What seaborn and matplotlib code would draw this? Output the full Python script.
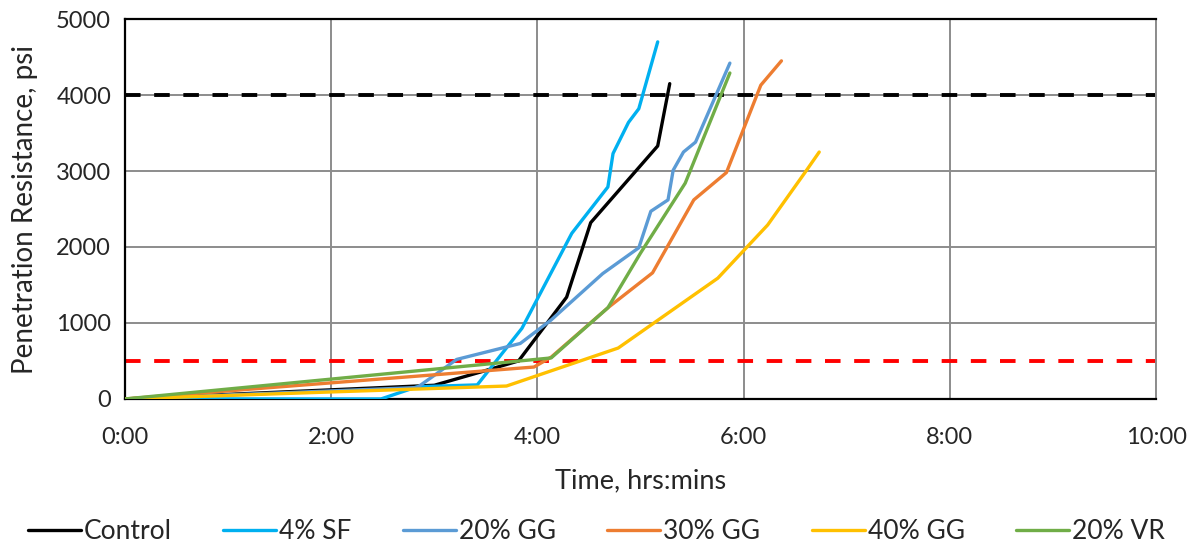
import numpy as np
import pandas as pd
import seaborn as sns
import matplotlib.pyplot as plt

# time in minutes, penetration resistance in psi
control_t = [0, 180, 207, 229, 257, 271, 310, 317]
control_p = [0, 180, 355, 500, 1340, 2320, 3330, 4150]

sf4_t = [0, 149, 170, 205, 231, 260, 281, 284, 293, 299, 310]
sf4_p = [0, 0, 160, 185, 930, 2180, 2790, 3230, 3640, 3820, 4700]

gg20_t = [0, 170, 193, 230, 248, 278, 299, 306, 316, 319, 325, 332, 352]
gg20_p = [0, 150, 520, 730, 1040, 1650, 1990, 2470, 2620, 3010, 3250, 3380, 4420]

gg30_t = [0, 238, 248, 281, 307, 331, 350, 370, 382]
gg30_p = [0, 420, 550, 1200, 1660, 2620, 2980, 4130, 4450]

gg40_t = [0, 222, 287, 345, 374, 396, 404]
gg40_p = [0, 170, 670, 1590, 2290, 2990, 3250]

vr20_t = [0, 248, 281, 300, 326, 352]
vr20_p = [0, 540, 1200, 1920, 2840, 4290]

mixes = ["Control", "4% SF", "20% GG", "30% GG", "40% GG", "20% VR"]
colors = ["#000000", "#00B0F0", "#5B9BD5", "#ED7D31", "#FFC000", "#70AD47"]

initial_set = 500
final_set = 4000

x_ticks = [0, 120, 240, 360, 480, 600]
y_ticks = [0, 1000, 2000, 3000, 4000, 5000]

series = [(control_t, control_p), (sf4_t, sf4_p), (gg20_t, gg20_p),
          (gg30_t, gg30_p), (gg40_t, gg40_p), (vr20_t, vr20_p)]
frames = []
for name, (t, p) in zip(mixes, series):
    frames.append(pd.DataFrame({"time": t, "psi": p, "mix": name}))
df = pd.concat(frames, ignore_index=True)

sns.set_style("white")
plt.rcParams["font.family"] = ["Lato", "DejaVu Sans"]

fig = plt.figure(figsize=(11.93, 5.45), dpi=100)
ax = fig.add_axes([0.1048, 0.268, 0.8642, 0.697])

ax.axhline(initial_set, color="#FF0000", lw=2.8, ls=(0, (4, 3.5)), zorder=1)
ax.axhline(final_set, color="#000000", lw=2.8, ls=(0, (4, 3.5)), zorder=1)

sns.lineplot(data=df, x="time", y="psi", hue="mix", hue_order=mixes,
             palette=colors, estimator=None, sort=False, lw=2.4, ax=ax,
             legend=True, zorder=3)

ax.set_xlim(0, 600)
ax.set_ylim(0, 5000)
ax.set_xticks(x_ticks)
ax.set_xticklabels([f"{m // 60}:{m % 60:02d}" for m in x_ticks])
ax.set_yticks(y_ticks)
ax.grid(True, color="#8C8C8C", lw=1.4)
ax.set_axisbelow(True)
ax.tick_params(length=0, labelsize=17)
ax.tick_params(axis="x", pad=20)
ax.tick_params(axis="y", pad=10)

ax.spines["right"].set_color("#8C8C8C")
ax.spines["right"].set_linewidth(1.4)
for side in ["left", "bottom", "top"]:
    ax.spines[side].set_color("#000000")
    ax.spines[side].set_linewidth(1.6)

ax.set_xlabel("Time, hrs:mins", fontsize=19.5, labelpad=15)
ax.set_ylabel("Penetration Resistance, psi", fontsize=20, labelpad=13)

handles, labels = ax.get_legend_handles_labels()
ax.get_legend().remove()
fig.legend(handles, labels, loc="lower center", bbox_to_anchor=(0.5, -0.042),
           ncol=6, frameon=False, fontsize=19, handlelength=2.0,
           handletextpad=0.12, columnspacing=1.95)

fig.savefig("out.png", dpi=100)
